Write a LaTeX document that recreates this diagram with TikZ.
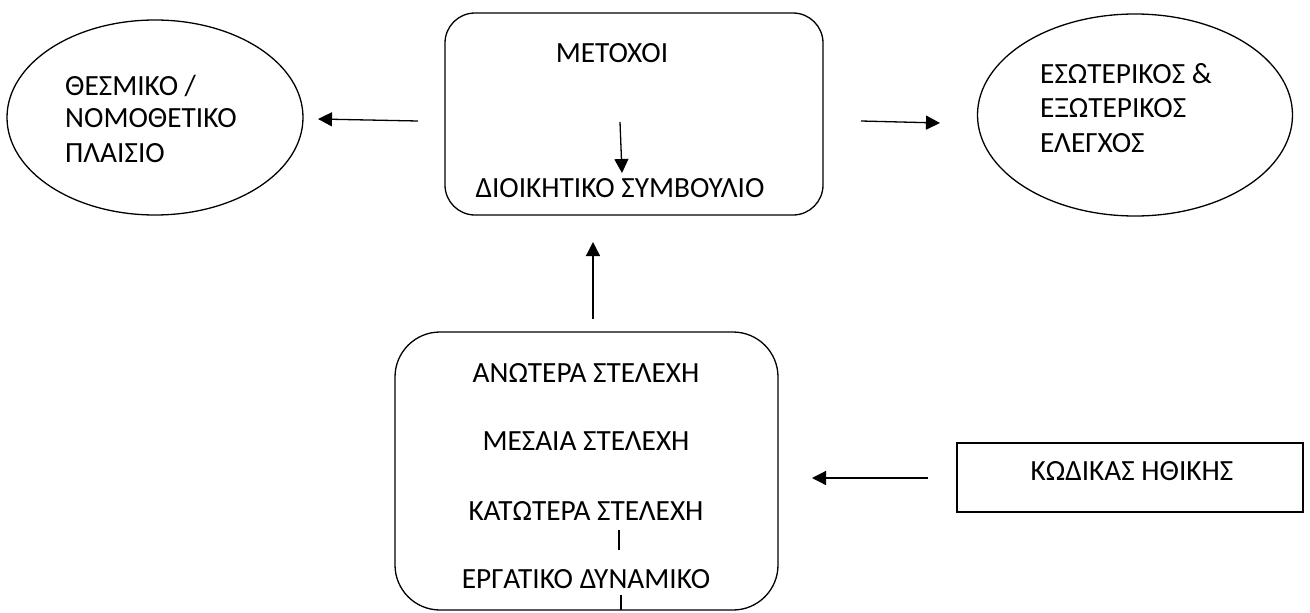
\documentclass[tikz,border=0pt]{standalone}
\usepackage{fontspec}
\setmainfont{Carlito}
\usetikzlibrary{arrows.meta,shapes.geometric}
\begin{document}
\begin{tikzpicture}[x=1pt,y=-1pt,
  lbl/.style={inner sep=0pt, font=\fontsize{29.3}{34}\selectfont},
  arr/.style={-{Triangle[length=14pt,width=14pt]}, line width=1.3pt},
  outline/.style={draw, line width=1.3pt, inner sep=0pt},
  plainline/.style={line width=1.3pt}]
\useasboundingbox (0,0) rectangle (1310,613);
% shapes
\node[outline, ellipse, minimum width=296pt, minimum height=195pt] (legal) at (155,117.5) {};
\node[outline, ellipse, minimum width=315pt, minimum height=202pt] (audit) at (1135,115) {};
\node[outline, rectangle, rounded corners=30pt, minimum width=378pt, minimum height=202pt] (top) at (634,114) {};
\node[outline, rectangle, rounded corners=45pt, minimum width=383pt, minimum height=278pt] (staff) at (586.5,471) {};
\node[outline, rectangle, minimum width=346pt, minimum height=69pt] (code) at (1130,477.5) {};
% texts
\node[lbl, anchor=base west] (l1) at (65,95) {ΘΕΣΜΙΚΟ /};
\node[lbl, anchor=base west] (l2) at (65,127) {ΝΟΜΟΘΕΤΙΚΟ};
\node[lbl, anchor=base west] (l3) at (65,162) {ΠΛΑΙΣΙΟ};
\node[lbl, anchor=base west] (r1) at (1040,83) {ΕΣΩΤΕΡΙΚΟΣ \&};
\node[lbl, anchor=base west] (r2) at (1040,117) {ΕΞΩΤΕΡΙΚΟΣ};
\node[lbl, anchor=base west] (r3) at (1040,152) {ΕΛΕΓΧΟΣ};
\node[lbl, anchor=base] (sh) at (612,62) {ΜΕΤΟΧΟΙ};
\node[lbl, anchor=base] (bd) at (620,197) {ΔΙΟΙΚΗΤΙΚΟ ΣΥΜΒΟΥΛΙΟ};
\node[lbl, anchor=base] (s1) at (586,382) {ΑΝΩΤΕΡΑ ΣΤΕΛΕΧΗ};
\node[lbl, anchor=base] (s2) at (586,450) {ΜΕΣΑΙΑ ΣΤΕΛΕΧΗ};
\node[lbl, anchor=base] (s3) at (586,520) {ΚΑΤΩΤΕΡΑ ΣΤΕΛΕΧΗ};
\node[lbl, anchor=base] (s4) at (586,588) {ΕΡΓΑΤΙΚΟ ΔΥΝΑΜΙΚΟ};
\node[lbl, anchor=base] (ct) at (1132,480) {ΚΩΔΙΚΑΣ ΗΘΙΚΗΣ};
% connector ends
\coordinate (a1s) at (418,121); \coordinate (a1e) at (318,119);
\coordinate (a2s) at (861,121); \coordinate (a2e) at (940,123);
\coordinate (a3s) at (620,122); \coordinate (a3e) at (622,173);
\coordinate (a4s) at (593,319); \coordinate (a4e) at (593,242);
\coordinate (a5s) at (928,478); \coordinate (a5e) at (812,478);
\coordinate (t1s) at (619,530); \coordinate (t1e) at (619,550);
\coordinate (t2s) at (621,595); \coordinate (t2e) at (621,610);
% connectors
\draw[arr] (a1s) -- (a1e);
\draw[arr] (a2s) -- (a2e);
\draw[arr] (a3s) -- (a3e);
\draw[arr] (a4s) -- (a4e);
\draw[arr] (a5s) -- (a5e);
\draw[plainline] (t1s) -- (t1e);
\draw[plainline] (t2s) -- (t2e);
\end{tikzpicture}
\end{document}
